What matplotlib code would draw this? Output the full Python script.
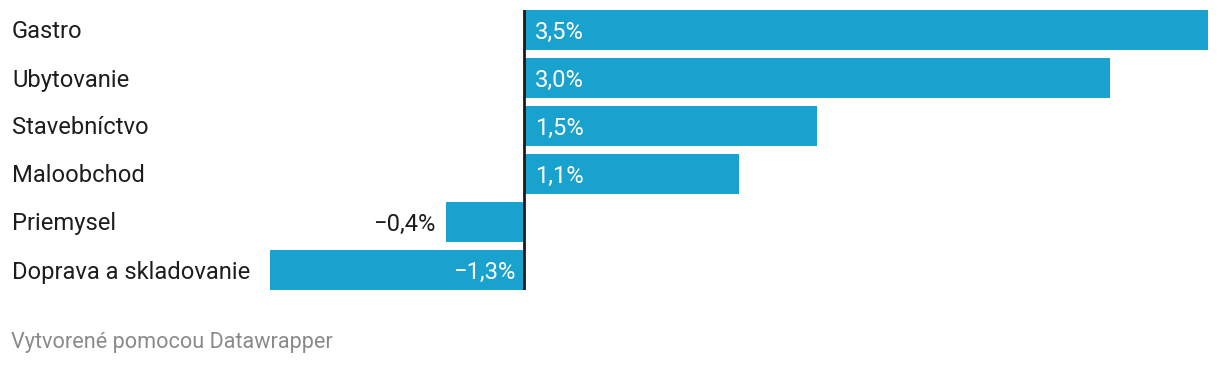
import matplotlib
matplotlib.use("Agg")
import matplotlib.pyplot as plt
from matplotlib.transforms import blended_transform_factory, offset_copy

categories = ["Gastro", "Ubytovanie", "Stavebníctvo", "Maloobchod", "Priemysel", "Doprava a skladovanie"]
values = [3.5, 3.0, 1.5, 1.1, -0.4, -1.3]
footer = "Vytvorené pomocou Datawrapper"

plt.rcParams['font.family'] = ['Roboto', 'DejaVu Sans']

W, H = 1220, 366
fig = plt.figure(figsize=(W / 100, H / 100), dpi=100)
fig.patch.set_facecolor("white")

# axes placed in pixel coordinates
x0, x1 = 270, 1208
y_top, y_bot = 10, 290
ax = fig.add_axes([x0 / W, 1 - y_bot / H, (x1 - x0) / W, (y_bot - y_top) / H])
ax.set_xlim(min(values + [0]), max(values + [0]))
bh = 40 / 48
ax.set_ylim(len(categories) - 1 + bh / 2, -bh / 2)
ax.axis("off")

color = "#1aa2cf"
ypos = list(range(len(categories)))
ax.barh(ypos, values, height=bh, color=color, zorder=1)
ax.axvline(0, color="#1a1a1a", lw=2, zorder=3)

fs = 17.1
base_off = -8.5  # baseline below bar centre, in pixels
for y, v in zip(ypos, values):
    txt = f"{abs(v):.1f}".replace(".", ",") + "%"
    if v < 0:
        txt = "\u2212" + txt
    if v >= 0:
        ax.annotate(txt, (0, y), xytext=(11, base_off), textcoords="offset pixels",
                    ha="left", va="baseline", color="white", fontsize=fs, zorder=4)
    elif abs(v) > 1.0:
        ax.annotate(txt, (0, y), xytext=(-9, base_off), textcoords="offset pixels",
                    ha="right", va="baseline", color="white", fontsize=fs, zorder=4)
    else:
        ax.annotate(txt, (v, y), xytext=(-10, base_off), textcoords="offset pixels",
                    ha="right", va="baseline", color="#1d1d1d", fontsize=fs, zorder=4)

tr = blended_transform_factory(fig.transFigure, ax.transData)
tr = offset_copy(tr, fig=fig, x=0, y=base_off * 72 / 100, units="points")
for y, c in zip(ypos, categories):
    fig.text(12 / W, y, c, transform=tr, ha="left", va="baseline",
             color="#1d1d1d", fontsize=fs)

fig.text(11 / W, 1 - 348 / H, footer, ha="left", va="baseline",
         color="#8a8a8a", fontsize=15.6)

fig.savefig("out.png", dpi=100, facecolor="white")
